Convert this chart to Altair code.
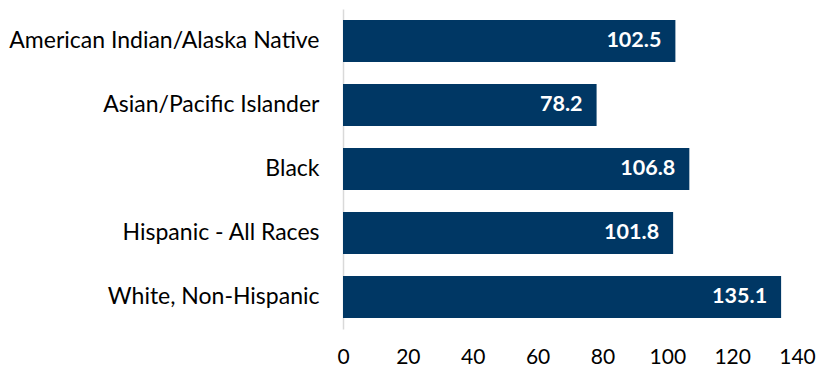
import altair as alt
import pandas as pd

categories = ["American Indian/Alaska Native", "Asian/Pacific Islander", "Black",
              "Hispanic - All Races", "White, Non-Hispanic"]
values = [102.5, 78.2, 106.8, 101.8, 135.1]
labels = ["102.5", "78.2", "106.8", "101.8", "135.1"]

df = pd.DataFrame({"cat": categories, "val": values, "lab": labels})

FONT = "Lato"

y = alt.Y("cat:N", sort=categories, title=None,
          scale=alt.Scale(paddingInner=0.34, paddingOuter=0.17),
          axis=alt.Axis(domain=True, domainColor="#d9d9d9", domainWidth=1.5, ticks=False,
                        labelFontSize=23, labelFont=FONT, labelColor="#000000",
                        labelPadding=24, labelLimit=400))
x = alt.X("val:Q", title=None,
          scale=alt.Scale(domain=[0, 140], nice=False),
          axis=alt.Axis(values=[0, 20, 40, 60, 80, 100, 120, 140], domain=False, ticks=False,
                        grid=False, labelFontSize=21, labelFont=FONT, labelColor="#000000",
                        labelPadding=17, labelFlush=False))

bars = alt.Chart(df).mark_bar(color="#003764").encode(y=y, x=x)
text = alt.Chart(df).mark_text(align="right", baseline="middle", dx=-14, color="white",
                               fontWeight="bold", fontSize=21.5, font=FONT).encode(
    y=alt.Y("cat:N", sort=categories), x=alt.X("val:Q"), text="lab:N")

chart = (bars + text).properties(
    width=454, height=320,
    background="white",
    autosize=alt.AutoSizeParams(type="none"),
    padding={"left": 343, "top": 9, "right": 19, "bottom": 37},
).configure_view(strokeWidth=0, stroke="transparent")

chart.save("out.html", embed_options={"renderer": "svg", "actions": False})
